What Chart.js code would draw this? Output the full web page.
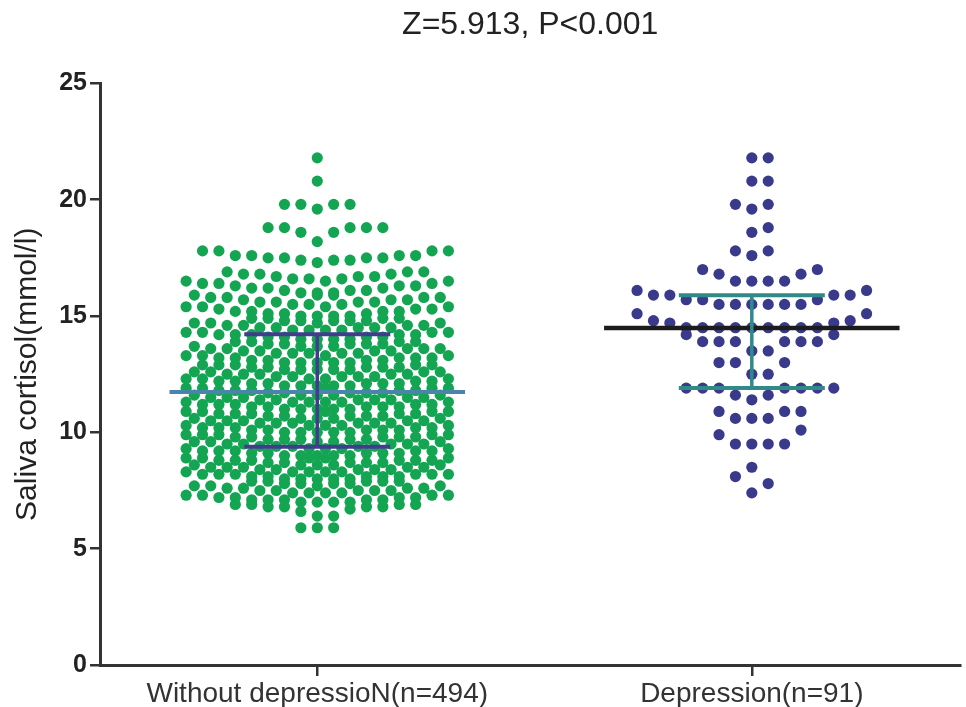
<!DOCTYPE html>
<html>
<head>
<meta charset="utf-8">
<script src="https://cdn.jsdelivr.net/npm/chart.js@4.4.1/dist/chart.umd.min.js"></script>
<style>
  html, body { margin: 0; padding: 0; background: #fff; }
  #wrap { width: 966px; height: 707px; }
</style>
</head>
<body>
<div id="wrap"><canvas id="myChart"></canvas></div>
<script>
const categories = ['Without depressioN(n=494)', 'Depression(n=91)'];
const titleText = 'Z=5.913, P<0.001';
const yTitle = 'Saliva cortisol(mmol/l)';

// dots: value level -> number of dots at that level
const withoutLevels = [5.9,
  6.4, 6.6, 6.7, 6.8, 6.9,
  7.0, 7.1, 7.2, 7.3, 7.4, 7.5, 7.6, 7.7, 7.8, 7.9,
  8.0, 8.1, 8.2, 8.3, 8.4, 8.5, 8.6, 8.7, 8.8, 8.9,
  9.0, 9.1, 9.2, 9.3, 9.4, 9.5, 9.6, 9.7, 9.8, 9.9,
  10.0, 10.1, 10.2, 10.3, 10.4, 10.5, 10.6, 10.7, 10.8, 10.9,
  11.0, 11.1, 11.2, 11.3, 11.4, 11.5, 11.6, 11.7, 11.8, 11.9,
  12.0, 12.1, 12.2, 12.3, 12.4, 12.5, 12.6, 12.7, 12.8, 12.9,
  13.0, 13.1, 13.2, 13.3, 13.4, 13.5, 13.6, 13.7, 13.8, 13.9,
  14.0, 14.1, 14.2, 14.3, 14.4, 14.5, 14.6, 14.7, 14.8, 14.9,
  15.0, 15.1, 15.2, 15.3, 15.4, 15.5, 15.6, 15.7, 15.8, 15.9,
  16.0, 16.1, 16.2, 16.3, 16.4, 16.5, 16.6, 16.7, 16.8, 16.9,
  17.3, 17.4, 17.5, 17.6, 17.8,
  18.2, 18.6, 18.8, 19.6, 19.8, 20.8, 21.8];
const withoutCounts = [3,
  2, 1, 1, 4, 4,
  4, 5, 4, 4, 4, 5, 4, 4, 4, 5,
  5, 5, 6, 5, 5, 5, 5, 5, 6, 5,
  5, 5, 5, 5, 5, 5, 5, 5, 5, 5,
  5, 5, 5, 5, 6, 5, 5, 5, 5, 5,
  5, 5, 5, 6, 5, 5, 5, 5, 5, 5,
  5, 5, 4, 5, 5, 5, 4, 5, 5, 5,
  5, 4, 5, 4, 5, 4, 5, 4, 5, 4,
  4, 4, 5, 4, 4, 5, 4, 4, 5, 4,
  4, 3, 4, 3, 4, 3, 4, 3, 4, 3,
  3, 3, 3, 3, 3, 3, 3, 3, 3, 3,
  1, 3, 4, 4, 4,
  1, 2, 5, 1, 4, 1, 1];

const depressionLevels = [7.4, 7.8, 8.1, 8.5, 9.5, 9.9, 10.1, 10.6, 10.9, 11.4, 11.6, 11.9,
  12.5, 13.0, 13.5, 13.9, 14.2, 14.5, 14.7, 14.8, 15.1, 15.5, 15.7, 15.9, 16.1,
  16.5, 16.8, 17.0, 17.6, 17.8, 18.6, 18.8, 19.6, 19.8, 20.8, 21.8];
const depressionCounts = [1, 1, 1, 1, 4, 1, 1, 3, 3, 1, 2, 7,
  2, 3, 2, 6, 2, 9, 2, 2, 2, 6, 3, 4, 2,
  4, 2, 2, 1, 2, 1, 1, 1, 2, 2, 2];

// summary bars drawn in the figure
const withoutMeanSD = [9.38, 11.74, 14.22];        // mean-SD, mean, mean+SD
const depressionMedianIQR = [11.91, 14.49, 15.89]; // Q1, median, Q3

const FONT = 'Liberation Sans, Arial, Helvetica, sans-serif';
const lineHalf = 0.34;
const capHalf = 0.168;
const colPx = 16.5;

function expand(levels, counts) {
  const out = [];
  levels.forEach((v, i) => { for (let k = 0; k < counts[i]; k++) out.push(v); });
  return out;
}

// column slots: whole columns from the centre out, then half columns, repeated
function slotOrder(half) {
  const s = [];
  for (let layer = 0; layer < 4; layer++) {
    if (layer % 2 === 0) {
      s.push(0);
      for (let k = 1; k <= half; k++) s.push(k, -k);
    } else {
      for (let k = 0; k < half; k++) s.push(k + 0.5, -(k + 0.5));
    }
  }
  return s;
}

// prism-like column scatter: bin the values, fill each bin from the centre outward
function swarm(values, center, base, half, pxPerUnit) {
  const bins = {};
  values.forEach(v => {
    const b = Math.floor(v - base + 1e-6);
    (bins[b] = bins[b] || []).push(v);
  });
  const slots = slotOrder(half);
  const pts = [];
  Object.keys(bins).forEach(b => {
    bins[b].sort((a, c) => a - c).forEach((v, i) => {
      pts.push({ x: center + slots[i] * colPx / pxPerUnit, y: v });
    });
  });
  return pts;
}

function seg(x0, x1, y0, y1, color, width) {
  return {
    type: 'line', data: [{ x: x0, y: y0 }, { x: x1, y: y1 }],
    borderColor: color, borderWidth: width, pointRadius: 0, fill: false, showLine: true
  };
}

const axisColor = '#333';
const ctx = document.getElementById('myChart').getContext('2d');

const myChart = new Chart(ctx, {
  type: 'scatter',
  data: { datasets: [] },
  options: {
    responsive: true,
    maintainAspectRatio: false,
    animation: false,
    layout: { padding: 0 },
    plugins: {
      legend: { display: false },
      tooltip: { enabled: false },
      title: {
        display: true,
        text: titleText,
        fullSize: false,
        color: '#222',
        font: { family: FONT, size: 32, weight: 'normal' },
        padding: { top: 6, bottom: 39 }
      }
    },
    scales: {
      x: {
        type: 'linear',
        min: 0.5,
        max: 2.48,
        afterBuildTicks: (s) => { s.ticks = [{ value: 1 }, { value: 2 }]; },
        afterFit: (s) => { s.height = 42; },
        ticks: {
          callback: (v) => categories[Math.round(v) - 1],
          color: '#333',
          font: { family: FONT, size: 28 },
          padding: 1,
          maxRotation: 0,
          autoSkip: false
        },
        grid: { drawOnChartArea: false, tickLength: 11, color: axisColor, lineWidth: 2.5 },
        border: { color: axisColor, width: 3 }
      },
      y: {
        min: 0,
        max: 25,
        afterFit: (s) => { s.width = 100; },
        ticks: {
          stepSize: 5,
          color: '#222',
          font: { family: FONT, size: 25, weight: 'bold' },
          padding: 3
        },
        title: {
          display: true,
          text: yTitle,
          color: '#222',
          font: { family: FONT, size: 30 },
          padding: { top: 10, bottom: 0 }
        },
        grid: { drawOnChartArea: false, tickLength: 10, color: axisColor, lineWidth: 2.5 },
        border: { color: axisColor, width: 3 }
      }
    }
  }
});

const xs = myChart.scales.x;
const pxPerUnit = xs.getPixelForValue(2) - xs.getPixelForValue(1);

const withoutPts = swarm(expand(withoutLevels, withoutCounts), 1, -0.05, 8, pxPerUnit);
const depressionPts = swarm(expand(depressionLevels, depressionCounts), 2, 0.35, 7, pxPerUnit);

const [sdLo, mean, sdHi] = withoutMeanSD;
const [q1, med, q3] = depressionMedianIQR;

myChart.data.datasets = [
  seg(1, 1, sdLo, sdHi, '#413c8e', 3.5),
  seg(1 - capHalf, 1 + capHalf, sdHi, sdHi, '#413c8e', 4),
  seg(1 - capHalf, 1 + capHalf, sdLo, sdLo, '#413c8e', 4),
  seg(1 - lineHalf, 1 + lineHalf, mean, mean, '#4a84aa', 4),
  seg(2, 2, q1, q3, '#2f8a88', 3.5),
  seg(2 - capHalf, 2 + capHalf, q3, q3, '#2f8a88', 4),
  seg(2 - capHalf, 2 + capHalf, q1, q1, '#2f8a88', 4),
  seg(2 - lineHalf, 2 + lineHalf, med, med, '#1c1c1c', 4.5),
  {
    data: withoutPts, backgroundColor: '#14a553', borderWidth: 0,
    pointRadius: 5.6, pointHoverRadius: 5.6
  },
  {
    data: depressionPts, backgroundColor: '#3a3a8c', borderWidth: 0,
    pointRadius: 5.6, pointHoverRadius: 5.6
  }
];
myChart.update();
</script>
</body>
</html>
